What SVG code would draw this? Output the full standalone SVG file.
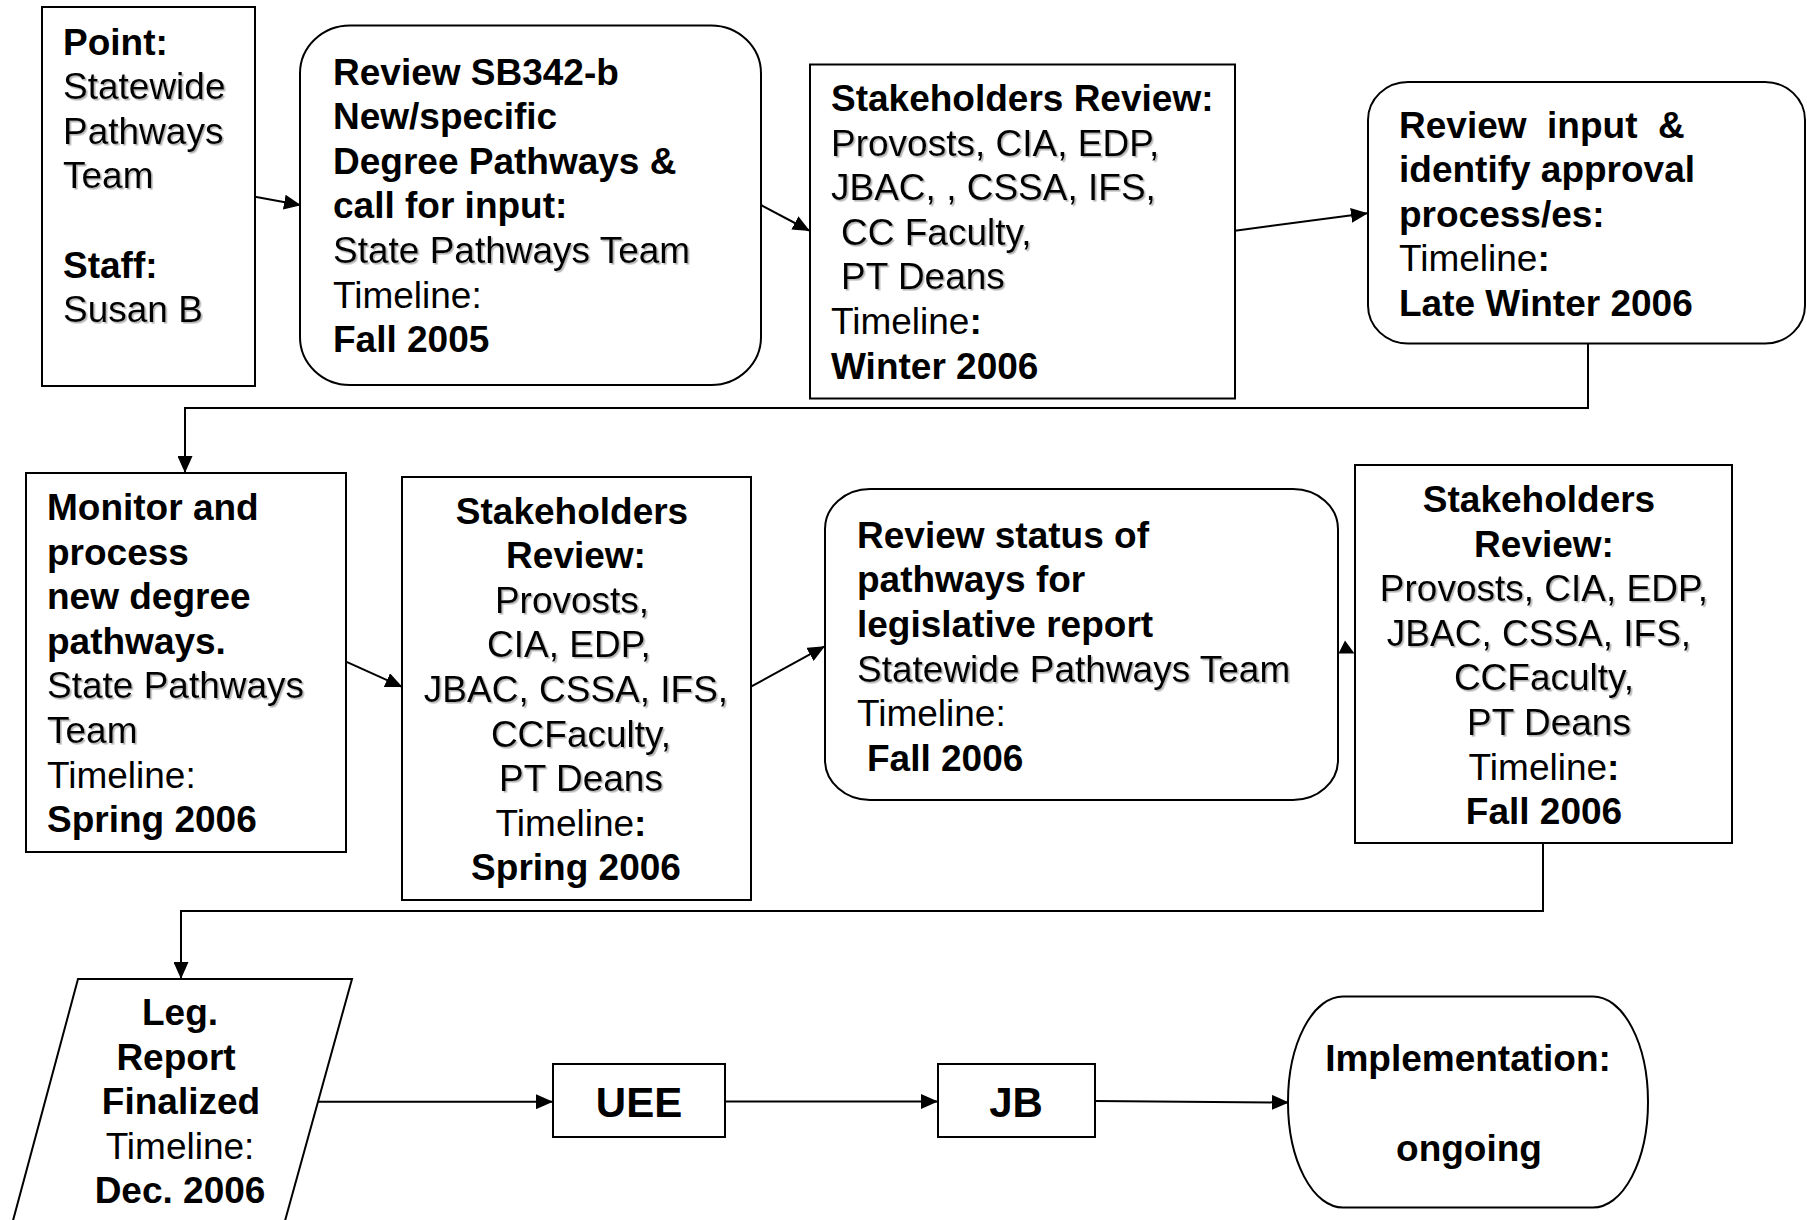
<svg xmlns="http://www.w3.org/2000/svg" width="1807" height="1220" viewBox="0 0 1807 1220">
  <defs>
    <style>
      .box { fill: #ffffff; stroke: #000000; stroke-width: 2; }
      .edge { fill: none; stroke: #000000; stroke-width: 2; }
      text { font-family: "Liberation Sans", Arial, Helvetica, sans-serif; font-size: 37px; fill: #000000; }
      .b { font-weight: bold; }
      .sh { filter: url(#soft); }
      .mid { text-anchor: middle; }
      .big { font-size: 42px; font-weight: bold; }
    </style>
    <filter id="soft" x="-5%" y="-20%" width="110%" height="140%">
      <feDropShadow dx="1.6" dy="1.6" stdDeviation="0.7" flood-color="#777777" flood-opacity="0.55"/>
    </filter>
    <marker id="arrow" markerUnits="userSpaceOnUse" markerWidth="17" markerHeight="15" refX="16" refY="7.5" orient="auto">
      <path d="M0,0 L17,7.5 L0,15 Z" fill="#000000"/>
    </marker>
  </defs>

  <!-- connectors -->
  <g id="connectors">
    <path class="edge" d="M255,196.7 L300,205" marker-end="url(#arrow)"/>
    <path class="edge" d="M761,205 L809,230.5" marker-end="url(#arrow)"/>
    <path class="edge" d="M1235,230.7 L1367,213.3" marker-end="url(#arrow)"/>
    <path class="edge" d="M1588,343.5 V408 H185 V472" marker-end="url(#arrow)"/>
    <path class="edge" d="M346,661.7 L401.5,686.7" marker-end="url(#arrow)"/>
    <path class="edge" d="M751,686.7 L824,646.7" marker-end="url(#arrow)"/>
    <polygon points="1345,640.5 1354.5,653.5 1338.5,653.5" fill="#000000"/>
    <path class="edge" d="M1543,843 V911 H181 V978" marker-end="url(#arrow)"/>
    <path class="edge" d="M318,1101.7 H552" marker-end="url(#arrow)"/>
    <path class="edge" d="M725,1101.5 H937" marker-end="url(#arrow)"/>
    <path class="edge" d="M1095,1101 L1288,1102.5" marker-end="url(#arrow)"/>
  </g>

  <!-- point of contact -->
  <g id="point">
    <rect class="box" x="42" y="7" width="213" height="379"/>
    <text x="63" y="54.5" class="b">Point:</text>
    <text x="63" y="99" class="sh">Statewide</text>
    <text x="63" y="143.7" class="sh">Pathways</text>
    <text x="63" y="188.3" class="sh">Team</text>
    <text x="63" y="277.5" class="b">Staff:</text>
    <text x="63" y="322" class="sh">Susan B</text>
  </g>

  <!-- review SB342-b -->
  <g id="review-sb342">
    <rect class="box" x="300" y="25.5" width="461" height="359.5" rx="50" ry="48"/>
    <text x="333" y="84.5" class="b">Review SB342-b</text>
    <text x="333" y="129.1" class="b">New/specific</text>
    <text x="333" y="173.7" class="b">Degree Pathways &amp;</text>
    <text x="333" y="218.3" class="b">call for input:</text>
    <text x="333" y="262.9" class="sh">State Pathways Team</text>
    <text x="333" y="307.5">Timeline:</text>
    <text x="333" y="352.1" class="b">Fall 2005</text>
  </g>

  <!-- stakeholders review, winter -->
  <g id="stakeholders-winter">
    <rect class="box" x="810" y="64.5" width="425" height="334"/>
    <text x="831" y="111" class="b">Stakeholders Review:</text>
    <text x="831" y="155.6" class="sh">Provosts, CIA, EDP,</text>
    <text x="831" y="200.2" class="sh">JBAC, , CSSA, IFS,</text>
    <text x="841" y="244.8" class="sh">CC Faculty,</text>
    <text x="841" y="289.4" class="sh">PT Deans</text>
    <text x="831" y="334">Timeline<tspan class="b">:</tspan></text>
    <text x="831" y="378.6" class="b">Winter 2006</text>
  </g>

  <!-- review input -->
  <g id="review-input">
    <rect class="box" x="1368" y="82" width="437" height="261.5" rx="40" ry="38"/>
    <text x="1399" y="137.5" class="b" xml:space="preserve">Review  input  &amp;</text>
    <text x="1399" y="182.1" class="b">identify approval</text>
    <text x="1399" y="226.7" class="b">process/es:</text>
    <text x="1399" y="271.3">Timeline<tspan class="b">:</tspan></text>
    <text x="1399" y="315.9" class="b">Late Winter 2006</text>
  </g>

  <!-- monitor and process -->
  <g id="monitor">
    <rect class="box" x="26" y="473" width="320" height="379"/>
    <text x="47" y="520" class="b">Monitor and</text>
    <text x="47" y="564.6" class="b">process</text>
    <text x="47" y="609.2" class="b">new degree</text>
    <text x="47" y="653.8" class="b">pathways.</text>
    <text x="47" y="698.4" class="sh">State Pathways</text>
    <text x="47" y="743" class="sh">Team</text>
    <text x="47" y="787.6">Timeline:</text>
    <text x="47" y="832.2" class="b">Spring 2006</text>
  </g>

  <!-- stakeholders review, spring -->
  <g id="stakeholders-spring">
    <rect class="box" x="402" y="477" width="349" height="423"/>
    <text x="572" y="523.5" class="b mid">Stakeholders</text>
    <text x="576" y="568.1" class="b mid">Review:</text>
    <text x="572" y="612.7" class="sh mid">Provosts,</text>
    <text x="569" y="657.3" class="sh mid">CIA, EDP,</text>
    <text x="576" y="701.9" class="sh mid">JBAC, CSSA, IFS,</text>
    <text x="581" y="746.5" class="sh mid">CCFaculty,</text>
    <text x="581" y="791.1" class="sh mid">PT Deans</text>
    <text x="571" y="835.7" class="mid">Timeline<tspan class="b">:</tspan></text>
    <text x="576" y="880.3" class="b mid">Spring 2006</text>
  </g>

  <!-- review status -->
  <g id="review-status">
    <rect class="box" x="825" y="489" width="513" height="311" rx="45" ry="40"/>
    <text x="857" y="547.7" class="b">Review status of</text>
    <text x="857" y="592.3" class="b">pathways for</text>
    <text x="857" y="636.9" class="b">legislative report</text>
    <text x="857" y="681.5" class="sh">Statewide Pathways Team</text>
    <text x="857" y="726.1">Timeline:</text>
    <text x="867" y="770.7" class="b">Fall 2006</text>
  </g>

  <!-- stakeholders review, fall -->
  <g id="stakeholders-fall">
    <rect class="box" x="1355" y="465" width="377" height="378"/>
    <text x="1539" y="512" class="b mid">Stakeholders</text>
    <text x="1544" y="556.6" class="b mid">Review:</text>
    <text x="1544" y="601.2" class="sh mid">Provosts, CIA, EDP,</text>
    <text x="1539" y="645.8" class="sh mid">JBAC, CSSA, IFS,</text>
    <text x="1544" y="690.4" class="sh mid">CCFaculty,</text>
    <text x="1549" y="735" class="sh mid">PT Deans</text>
    <text x="1544" y="779.6" class="mid">Timeline<tspan class="b">:</tspan></text>
    <text x="1544" y="824.2" class="b mid">Fall 2006</text>
  </g>

  <!-- legislative report -->
  <g id="leg-report">
    <polygon class="box" points="78,979 352,979 283,1228 11,1228"/>
    <text x="180" y="1025" class="b mid">Leg.</text>
    <text x="176" y="1069.6" class="b mid">Report</text>
    <text x="181" y="1114.2" class="b mid">Finalized</text>
    <text x="180" y="1158.8" class="mid">Timeline:</text>
    <text x="180" y="1203.4" class="b mid">Dec. 2006</text>
  </g>

  <!-- UEE -->
  <g id="uee">
    <rect class="box" x="553" y="1064" width="172" height="73"/>
    <text x="639" y="1116.5" class="big mid">UEE</text>
  </g>

  <!-- JB -->
  <g id="jb">
    <rect class="box" x="938" y="1064" width="157" height="73"/>
    <text x="1016" y="1116.5" class="big mid">JB</text>
  </g>

  <!-- implementation -->
  <g id="implementation">
    <path class="box" d="M1343,996.5 H1593 A55,105.5 0 0 1 1593,1207.5 H1343 A55,105.5 0 0 1 1343,996.5 Z"/>
    <text x="1468" y="1071" class="b mid">Implementation:</text>
    <text x="1469" y="1161" class="b mid">ongoing</text>
  </g>
</svg>
